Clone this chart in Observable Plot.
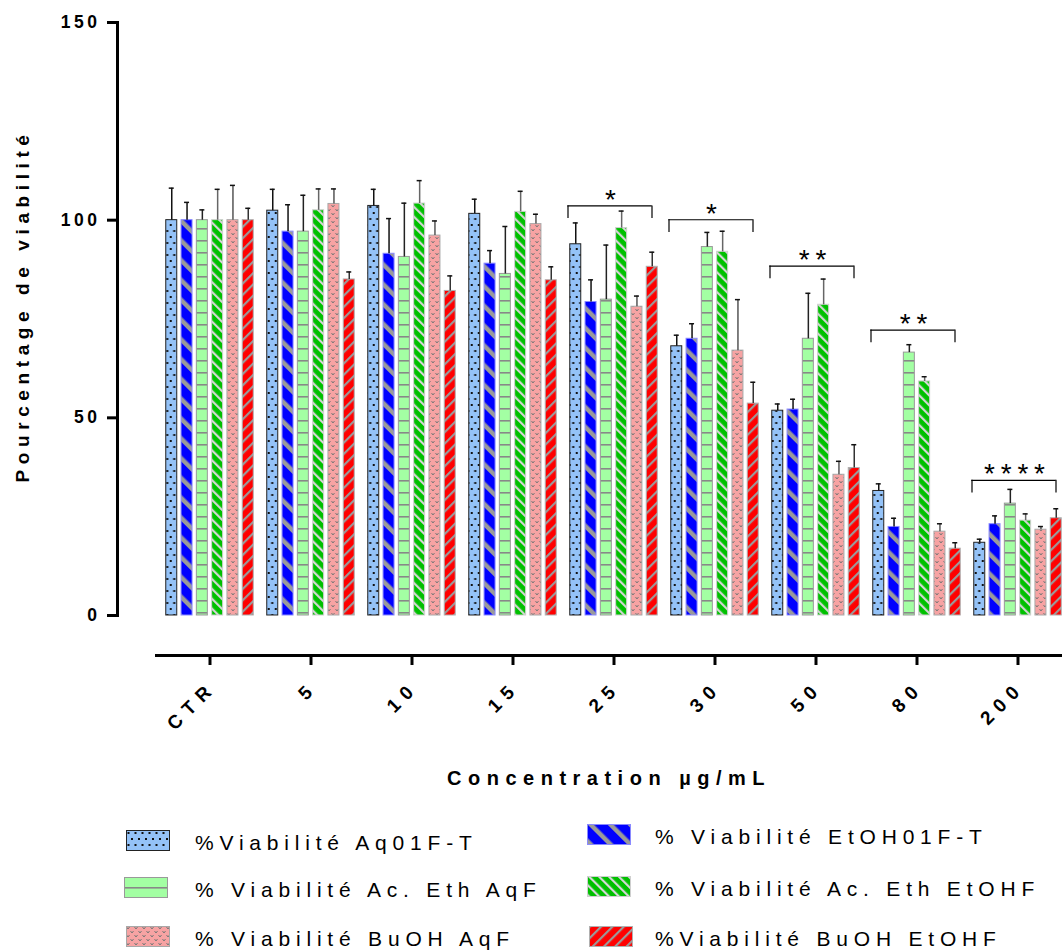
<!DOCTYPE html>
<html>
<head>
<meta charset="utf-8">
<script src="https://cdn.jsdelivr.net/npm/d3@7"></script>
<script src="https://cdn.jsdelivr.net/npm/@observablehq/plot@0.6"></script>
<style>
  html, body { margin: 0; padding: 0; background: #fff; }
  #wrap { position: relative; width: 1062px; height: 952px; overflow: hidden; background: #fff;
          font-family: "Liberation Sans", Arial, sans-serif; }
  #chart { position: absolute; left: 0; top: 0; width: 1062px; height: 800px; overflow: hidden; }
  .leg-sw { position: absolute; width: 44px; height: 21px; }
  .leg-tx { position: absolute; font-size: 21px; letter-spacing: 5.8px; color: #000; white-space: nowrap;
            line-height: 24px; }
</style>
</head>
<body>
<div id="wrap">
<svg width="0" height="0" style="position:absolute;left:0;top:0">
  <defs>
    <pattern id="pat0" patternUnits="userSpaceOnUse" width="7" height="12">
      <rect width="7" height="12" fill="#94c2f7"/>
      <rect x="1.5" y="2" width="2" height="2" fill="#111"/>
      <rect x="5" y="8" width="2" height="2" fill="#111"/>
    </pattern>
    <pattern id="pat1" patternUnits="userSpaceOnUse" width="14" height="14" patternTransform="rotate(-45)">
      <rect width="14" height="14" fill="#0000ff"/>
      <rect width="4.5" height="14" fill="#9a9a9a"/>
    </pattern>
    <pattern id="pat2" patternUnits="userSpaceOnUse" width="10" height="12">
      <rect width="10" height="12" fill="#a3ffa3"/>
      <rect y="0" width="10" height="1.6" fill="#888"/>
    </pattern>
    <pattern id="pat3" patternUnits="userSpaceOnUse" width="7" height="7" patternTransform="rotate(-45)">
      <rect width="7" height="7" fill="#00c000"/>
      <rect width="2.2" height="7" fill="#d6d6d6"/>
    </pattern>
    <pattern id="pat4" patternUnits="userSpaceOnUse" width="8" height="8">
      <rect width="8" height="8" fill="#f7a3a3"/>
      <path d="M0.5,1 L2,3 L3.5,1 M4.5,5 L6,7 L7.5,5" stroke="#777" stroke-width="1" fill="none"/>
    </pattern>
    <pattern id="pat5" patternUnits="userSpaceOnUse" width="8" height="8" patternTransform="rotate(45)">
      <rect width="8" height="8" fill="#ff0000"/>
      <rect width="2.2" height="8" fill="#9a9a9a"/>
    </pattern>
  </defs>
</svg>
<div id="chart"></div>
<div id="legend"></div>
</div>
<script>
// ---- data ----
const categories = ["CTR", "5", "10", "15", "25", "30", "50", "80", "200"];
const seriesNames = [
  "%Viabilité Aq01F-T",
  "% Viabilité EtOH01F-T",
  "% Viabilité Ac. Eth AqF",
  "% Viabilité Ac. Eth EtOHF",
  "% Viabilité BuOH AqF",
  "%Viabilité BuOH EtOHF"
];
const viabAq01FT     = [100, 102.4, 103.6, 101.6, 93.9, 68.1, 51.8, 31.5, 18.4];
const sdAq01FT       = [8.1, 5.4, 4.2, 3.7, 5.4, 2.8, 1.7, 1.8, 0.9];
const viabEtOH01FT   = [100, 97.1, 91.5, 89.0, 79.3, 70.0, 52.1, 22.4, 23.1];
const sdEtOH01FT     = [4.5, 6.8, 8.9, 3.3, 5.6, 3.8, 2.6, 2.2, 2.1];
const viabAcEthAqF   = [100, 97.1, 90.7, 86.4, 79.9, 93.2, 70.0, 66.5, 28.3];
const sdAcEthAqF     = [2.6, 9.2, 13.6, 12.0, 13.8, 3.7, 11.5, 2.0, 3.6];
const viabAcEthEtOHF = [100, 102.5, 104.2, 102.1, 98.0, 92.0, 78.6, 59.2, 24.0];
const sdAcEthEtOHF   = [7.8, 5.4, 5.8, 5.2, 4.3, 5.2, 6.5, 1.2, 1.7];
const viabBuOHAqF    = [100, 104.1, 96.1, 99.0, 78.1, 67.0, 35.6, 21.2, 21.7];
const sdBuOHAqF      = [8.8, 3.8, 3.7, 2.5, 2.7, 12.9, 3.4, 2.0, 0.8];
const viabBuOHEtOHF  = [100, 85.0, 82.1, 84.8, 88.2, 53.6, 37.3, 16.9, 24.6];
const sdBuOHEtOHF    = [3.0, 1.9, 3.8, 3.4, 3.7, 5.4, 5.9, 1.5, 2.4];

const sigCategories = ["25", "30", "50", "80", "200"];
const sigLevels     = [103.6, 100.1, 88.4, 72.2, 34.2];
const sigLabels     = ["*", "*", "* *", "* *", "* * * *"];

const yTicks = [0, 50, 100, 150];
const yTitle = "Pourcentage de viabilité";
const xTitle = "Concentration µg/mL";

// ---- styles ----
const patterns   = ["url(#pat0)", "url(#pat1)", "url(#pat2)", "url(#pat3)", "url(#pat4)", "url(#pat5)"];
const barStrokes = ["#222", "#8a8aff", "#999", "#cfcfcf", "#a8a8a8", "#b0b0b0"];
const errStrokes = ["#111", "#111", "#222", "#666", "#555", "#333"];
const pitch = 15.3;

const means = [viabAq01FT, viabEtOH01FT, viabAcEthAqF, viabAcEthEtOHF, viabBuOHAqF, viabBuOHEtOHF];
const sds   = [sdAq01FT, sdEtOH01FT, sdAcEthAqF, sdAcEthEtOHF, sdBuOHAqF, sdBuOHEtOHF];

const table = [];
means.forEach((arr, s) => arr.forEach((v, c) => table.push({conc: categories[c], series: s, value: v, top: v + sds[s][c]})));
const sig = sigCategories.map((c, i) => ({conc: c, level: sigLevels[i], leg: sigLevels[i] - 3.2, label: sigLabels[i]}));

const marks = [];
marks.push(Plot.frame({anchor: "left", strokeWidth: 3, insetBottom: 40, stroke: "#000"}));
marks.push(Plot.frame({anchor: "bottom", strokeWidth: 3, insetLeft: 39, stroke: "#000"}));
marks.push(Plot.axisY({ticks: yTicks, tickSize: 10, tickPadding: 7, fontSize: 17.5, fontWeight: "bold",
  strokeWidth: 3, label: null, tickFormat: d => String(d)}));
// x ticks only
marks.push(Plot.axisX({tickSize: 10, strokeWidth: 3, label: null, tickFormat: () => ""}));
// x tick labels, rotated
marks.push(Plot.axisX({tickSize: 0, tickPadding: 29, dx: 3, tickRotate: -45, fontSize: 19, fontWeight: "bold",
  label: null}));

for (let s = 0; s < 6; s++) {
  const rows = table.filter(d => d.series === s);
  const dx = (s - 2.5) * pitch;
  marks.push(Plot.barY(rows, {x: "conc", y: "value", fill: patterns[s], stroke: barStrokes[s], strokeWidth: 1, dx}));
  marks.push(Plot.ruleX(rows, {x: "conc", y1: "value", y2: "top", stroke: errStrokes[s], strokeWidth: 1.5, dx}));
  marks.push(Plot.tickY(rows, {x: "conc", y: "top", stroke: "#111", strokeWidth: 1.5, dx, insetLeft: 3, insetRight: 3}));
}

// significance brackets
marks.push(Plot.tickY(sig, {x: "conc", y: "level", stroke: "#000", strokeWidth: 1.2, insetLeft: -40.7, insetRight: -32.7}));
marks.push(Plot.ruleX(sig, {x: "conc", y1: "leg", y2: "level", stroke: "#000", strokeWidth: 1.2, dx: -46}));
marks.push(Plot.ruleX(sig, {x: "conc", y1: "leg", y2: "level", stroke: "#000", strokeWidth: 1.2, dx: 38}));
marks.push(Plot.text(sig, {x: "conc", y: "level", text: "label", dx: -4, dy: 3, lineAnchor: "bottom",
  fontSize: 28, fill: "#000", fontFamily: "Liberation Sans"}));

// titles
marks.push(Plot.text([yTitle], {frameAnchor: "left", rotate: -90, dx: -95, dy: -33, textAnchor: "middle",
  lineAnchor: "middle", fontSize: 19, fontWeight: "bold"}));
marks.push(Plot.text([xTitle], {frameAnchor: "bottom", dx: 15, dy: 123, textAnchor: "middle",
  lineAnchor: "middle", fontSize: 20, fontWeight: "bold"}));

const chart = Plot.plot({
  width: 1062,
  height: 800,
  marginTop: 22,
  marginLeft: 117,
  marginRight: -8,
  marginBottom: 145,
  insetLeft: 39,
  insetBottom: 40,
  style: {fontFamily: "'Liberation Sans', Arial, sans-serif", color: "#000", background: "#fff", overflow: "hidden"},
  x: {domain: categories, paddingInner: 0.895, paddingOuter: 0.4475},
  y: {domain: [0, 150]},
  marks
});
document.getElementById("chart").appendChild(chart);

// letter spacing like the original (GraphPad style)
d3.select(chart).selectAll("text").each(function() {
  const t = this.textContent;
  const g = this.closest("g[aria-label]");
  const lab = g ? g.getAttribute("aria-label") : "";
  if (t === yTitle) this.style.letterSpacing = "5.6px";
  else if (t === xTitle) this.style.letterSpacing = "6.5px";
  else if (t.includes("*")) this.style.letterSpacing = "-1px";
  else if (lab.startsWith("x-axis")) this.style.letterSpacing = "7px";
  else this.style.letterSpacing = "3.5px";
});

// legend
const legend = document.getElementById("legend");
const legPos = [
  {sx: 126, sy: 830, tx: 195}, {sx: 587, sy: 824, tx: 655},
  {sx: 124, sy: 877, tx: 195}, {sx: 587, sy: 876, tx: 655},
  {sx: 126, sy: 926, tx: 195}, {sx: 589, sy: 926, tx: 655}
];
const legOrder = [0, 1, 2, 3, 4, 5];
legOrder.forEach((s, k) => {
  const p = legPos[k];
  const sw = document.createElementNS("http://www.w3.org/2000/svg", "svg");
  sw.setAttribute("class", "leg-sw");
  sw.setAttribute("width", 44); sw.setAttribute("height", 21);
  sw.style.left = p.sx + "px"; sw.style.top = p.sy + "px";
  const shift = s === 2 ? -2 : 0;
  sw.innerHTML = `<g transform="translate(0,${shift})"><rect x="0.5" y="${0.5 - shift}" width="43" height="20" fill="${patterns[s]}" stroke="${barStrokes[s]}" stroke-width="1"/></g>`;
  legend.appendChild(sw);
  const tx = document.createElement("div");
  tx.className = "leg-tx";
  tx.textContent = seriesNames[s];
  tx.style.left = p.tx + "px";
  tx.style.top = (p.sy + 21 / 2 - 12 + 2) + "px";
  legend.appendChild(tx);
});
</script>
</body>
</html>
